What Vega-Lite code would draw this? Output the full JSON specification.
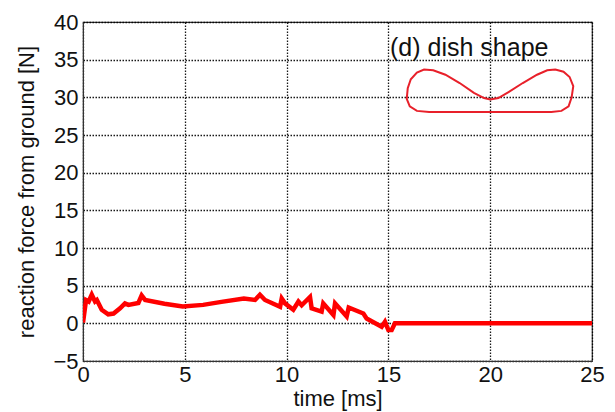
{
  "$schema": "https://vega.github.io/schema/vega-lite/v6.json",
  "width": 509,
  "height": 339,
  "autosize": {"type": "none"},
  "padding": {"left": 83, "top": 22, "right": 23, "bottom": 51},
  "background": "white",
  "config": {
    "view": {"stroke": "#333333", "strokeWidth": 1.2},
    "font": "Liberation Sans",
    "axis": {
      "labelFont": "Liberation Sans",
      "titleFont": "Liberation Sans",
      "labelFontSize": 22,
      "titleFontSize": 22,
      "titleFontWeight": "normal",
      "labelColor": "#111111",
      "titleColor": "#111111",
      "domainColor": "#333333",
      "grid": true,
      "gridColor": "#000000",
      "gridDash": [1.5, 1.5],
      "gridWidth": 1.3,
      "gridOpacity": 0.9,
      "ticks": false,
      "labelOverlap": false,
      "labelFlush": false,
      "labelBound": false
    }
  },
  "datasets": {
    "force": [
      {"i": 0, "x": 0.0, "y": 0.1},
      {"i": 1, "x": 0.15, "y": 3.1},
      {"i": 2, "x": 0.28, "y": 2.9},
      {"i": 3, "x": 0.43, "y": 3.8},
      {"i": 4, "x": 0.59, "y": 2.9},
      {"i": 5, "x": 0.68, "y": 3.1},
      {"i": 6, "x": 0.92, "y": 1.8},
      {"i": 7, "x": 1.24, "y": 1.2},
      {"i": 8, "x": 1.5, "y": 1.3},
      {"i": 9, "x": 1.82, "y": 2.0},
      {"i": 10, "x": 2.06, "y": 2.65},
      {"i": 11, "x": 2.23, "y": 2.45},
      {"i": 12, "x": 2.72, "y": 2.7},
      {"i": 13, "x": 2.88, "y": 3.7},
      {"i": 14, "x": 3.05, "y": 3.1},
      {"i": 15, "x": 4.0, "y": 2.6},
      {"i": 16, "x": 4.9, "y": 2.25},
      {"i": 17, "x": 5.9, "y": 2.45},
      {"i": 18, "x": 6.8, "y": 2.85},
      {"i": 19, "x": 7.9, "y": 3.3},
      {"i": 20, "x": 8.45, "y": 3.1},
      {"i": 21, "x": 8.69, "y": 3.8},
      {"i": 22, "x": 8.94, "y": 3.1},
      {"i": 23, "x": 9.68, "y": 2.2},
      {"i": 24, "x": 9.76, "y": 3.3},
      {"i": 25, "x": 9.92, "y": 2.65},
      {"i": 26, "x": 10.33, "y": 1.8},
      {"i": 27, "x": 10.58, "y": 2.9},
      {"i": 28, "x": 10.74, "y": 2.4},
      {"i": 29, "x": 11.15, "y": 3.5},
      {"i": 30, "x": 11.23, "y": 2.0},
      {"i": 31, "x": 11.72, "y": 1.55},
      {"i": 32, "x": 11.8, "y": 2.65},
      {"i": 33, "x": 12.3, "y": 1.1},
      {"i": 34, "x": 12.38, "y": 2.65},
      {"i": 35, "x": 12.95, "y": 0.9},
      {"i": 36, "x": 13.05, "y": 2.1},
      {"i": 37, "x": 13.77, "y": 1.3},
      {"i": 38, "x": 13.93, "y": 0.65},
      {"i": 39, "x": 14.67, "y": -0.45},
      {"i": 40, "x": 14.83, "y": 0.2},
      {"i": 41, "x": 15.0, "y": -0.9},
      {"i": 42, "x": 15.16, "y": -0.9},
      {"i": 43, "x": 15.32, "y": 0.0},
      {"i": 44, "x": 25.0, "y": 0.0}
    ],
    "shape": [
      {"i": 0, "x": 20.0, "y": 28.05},
      {"i": 1, "x": 17.0, "y": 28.05},
      {"i": 2, "x": 16.4, "y": 28.2},
      {"i": 3, "x": 16.05, "y": 28.8},
      {"i": 4, "x": 15.9, "y": 29.8},
      {"i": 5, "x": 15.95, "y": 31.2},
      {"i": 6, "x": 16.1, "y": 32.4},
      {"i": 7, "x": 16.4, "y": 33.3},
      {"i": 8, "x": 16.75, "y": 33.7},
      {"i": 9, "x": 17.2, "y": 33.6},
      {"i": 10, "x": 17.8, "y": 33.0},
      {"i": 11, "x": 18.5, "y": 31.9},
      {"i": 12, "x": 19.2, "y": 30.6},
      {"i": 13, "x": 19.7, "y": 29.9},
      {"i": 14, "x": 20.0, "y": 29.7},
      {"i": 15, "x": 20.4, "y": 29.9},
      {"i": 16, "x": 20.9, "y": 30.7},
      {"i": 17, "x": 21.6, "y": 31.9},
      {"i": 18, "x": 22.3, "y": 33.0},
      {"i": 19, "x": 22.8, "y": 33.6},
      {"i": 20, "x": 23.2, "y": 33.7},
      {"i": 21, "x": 23.6, "y": 33.4},
      {"i": 22, "x": 23.9, "y": 32.7},
      {"i": 23, "x": 24.08, "y": 31.5},
      {"i": 24, "x": 24.0, "y": 30.0},
      {"i": 25, "x": 23.85, "y": 28.8},
      {"i": 26, "x": 23.5, "y": 28.2},
      {"i": 27, "x": 23.0, "y": 28.05},
      {"i": 28, "x": 20.0, "y": 28.05}
    ],
    "label": [
      {"x": 15.08, "y": 36.6, "text": "(d) dish shape"}
    ]
  },
  "encoding": {
    "x": {
      "field": "x", "type": "quantitative",
      "scale": {"domain": [0, 25], "nice": false, "zero": false},
      "axis": {"title": "time [ms]", "values": [0, 5, 10, 15, 20, 25], "labelPadding": 3, "titlePadding": 3, "labelDx": 6}
    },
    "y": {
      "field": "y", "type": "quantitative",
      "scale": {"domain": [-5, 40], "nice": false, "zero": false},
      "axis": {"title": "reaction force from ground [N]", "values": [-5, 0, 5, 10, 15, 20, 25, 30, 35, 40], "labelPadding": 5, "titlePadding": 14, "labelDy": -3}
    }
  },
  "layer": [
    {
      "data": {"name": "force"},
      "mark": {"type": "line", "color": "#ff0000", "strokeWidth": 4.5, "strokeJoin": "miter", "clip": true},
      "encoding": {
        "order": {"field": "i", "type": "quantitative"}
      }
    },
    {
      "data": {"name": "shape"},
      "mark": {"type": "line", "color": "#e8202a", "strokeWidth": 2},
      "encoding": {
        "order": {"field": "i", "type": "quantitative"}
      }
    },
    {
      "data": {"name": "label"},
      "mark": {"type": "text", "align": "left", "baseline": "middle", "fontSize": 25, "font": "Liberation Sans", "color": "#111111"},
      "encoding": {
        "text": {"field": "text"}
      }
    }
  ]
}
